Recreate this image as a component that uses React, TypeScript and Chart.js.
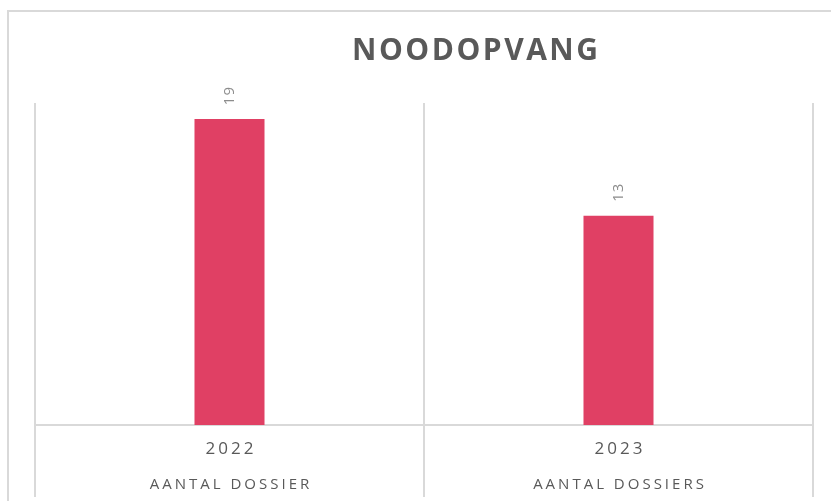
import React, { useEffect, useRef } from "react";
import { Chart, registerables } from "chart.js";

Chart.register(...registerables);

const categories = ["2022", "2023"];
const subLabels = ["AANTAL DOSSIER", "AANTAL DOSSIERS"];
const values = [19, 13];
const chartTitle = "NOODOPVANG";
const yMin = 0;
const yMax = 20;

const W = 831;
const H = 501;
const GRID = "#d9d9d9";
const TEXT = "#595959";
const BAR = "#E04064";

function spacedText(ctx: CanvasRenderingContext2D, text: string, x: number, y: number, spacing: number) {
  (ctx as any).letterSpacing = spacing + "px";
  ctx.fillText(text, x + spacing / 2, y);
  (ctx as any).letterSpacing = "0px";
}

export default function App() {
  const ref = useRef<HTMLCanvasElement>(null);

  useEffect(() => {
    const canvas = ref.current!;
    const decor = {
      id: "decor",
      beforeDraw(chart: any) {
        const ctx: CanvasRenderingContext2D = chart.ctx;
        ctx.save();
        ctx.fillStyle = "#ffffff";
        ctx.fillRect(0, 0, chart.width, chart.height);
        ctx.strokeStyle = GRID;
        ctx.lineWidth = 2;
        ctx.strokeRect(8, 11, 1200, 1200);
        ctx.fillStyle = TEXT;
        ctx.font = "bold 30px 'Open Sans'";
        ctx.textAlign = "center";
        ctx.textBaseline = "alphabetic";
        spacedText(ctx, chartTitle, 475, 60, 2.5);
        ctx.restore();
      },
      afterDatasetsDraw(chart: any) {
        const ctx: CanvasRenderingContext2D = chart.ctx;
        const meta = chart.getDatasetMeta(0);
        ctx.save();
        ctx.fillStyle = "#8c8c8c";
        ctx.font = "15px 'Open Sans'";
        ctx.textAlign = "center";
        ctx.textBaseline = "middle";
        meta.data.forEach((bar: any, i: number) => {
          ctx.save();
          ctx.translate(bar.x, bar.y - 23);
          ctx.rotate(-Math.PI / 2);
          spacedText(ctx, String(values[i]), 0, 0, 1);
          ctx.restore();
        });
        ctx.restore();
      },
      afterDraw(chart: any) {
        const ctx: CanvasRenderingContext2D = chart.ctx;
        const area = chart.chartArea;
        const xs = chart.scales.x;
        const n = categories.length;
        const step = (area.right - area.left) / n;
        ctx.save();
        ctx.strokeStyle = GRID;
        ctx.lineWidth = 2;
        for (let i = 0; i <= n; i++) {
          const gx = Math.round(area.left + step * i);
          ctx.beginPath();
          ctx.moveTo(gx, area.bottom);
          ctx.lineTo(gx, 497);
          ctx.stroke();
        }
        ctx.fillStyle = TEXT;
        ctx.textAlign = "center";
        ctx.textBaseline = "middle";
        categories.forEach((c, i) => {
          const cx = xs.getPixelForValue(i);
          ctx.font = "17px 'Open Sans'";
          spacedText(ctx, c, cx, 449, 3);
          ctx.font = "15px 'Open Sans'";
          spacedText(ctx, subLabels[i], cx, 485, 3);
        });
        ctx.restore();
      },
    };

    const chart = new Chart(canvas, {
      type: "bar",
      data: {
        labels: categories,
        datasets: [
          {
            data: values,
            backgroundColor: BAR,
            borderWidth: 0,
            barPercentage: 0.18,
            categoryPercentage: 1,
          },
        ],
      },
      options: {
        responsive: false,
        animation: false,
        layout: { padding: { left: 35, right: 18, top: 103, bottom: 76 } },
        plugins: {
          legend: { display: false },
          title: { display: false },
          tooltip: { enabled: false },
        },
        scales: {
          x: {
            type: "category",
            offset: true,
            grid: { offset: true, color: GRID, lineWidth: 2, drawTicks: false },
            border: { display: true, color: GRID, width: 2 },
            ticks: { display: false },
          },
          y: {
            display: false,
            min: yMin,
            max: yMax,
          },
        },
      },
      plugins: [decor],
    });
    return () => chart.destroy();
  }, []);

  return (
    <div style={{ position: "fixed", left: 0, top: 0, width: W, height: H, background: "#fff" }}>
      <canvas ref={ref} width={W} height={H} style={{ display: "block", width: W, height: H }} />
    </div>
  );
}
